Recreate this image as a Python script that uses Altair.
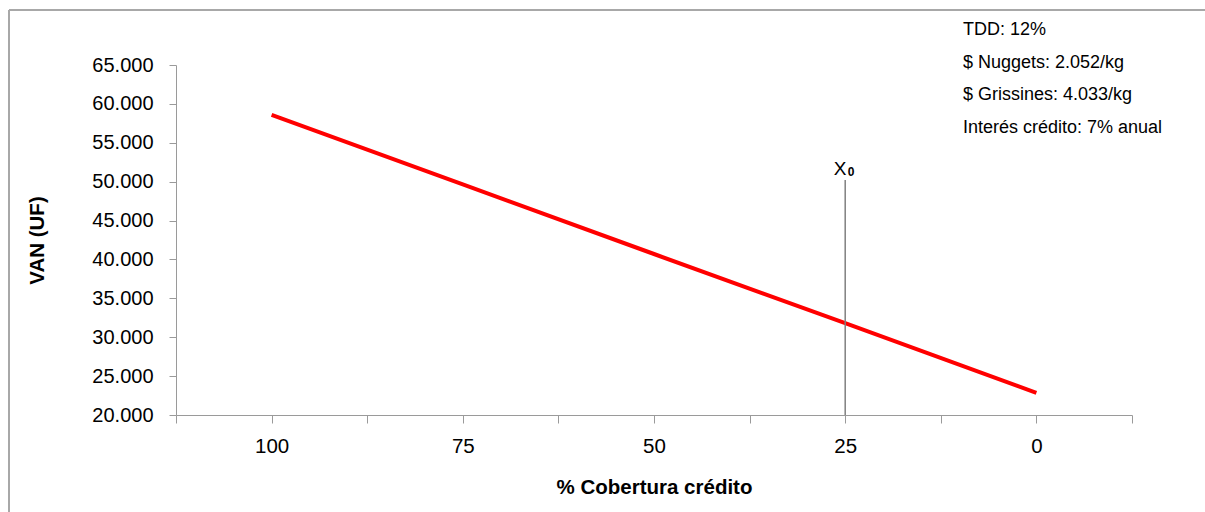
import altair as alt
import pandas as pd

# Data
cobertura = [100, 75, 50, 25, 0]
van = [58600, 49650, 40700, 31800, 22850]

x_ticks = [112.5, 100, 87.5, 75, 62.5, 50, 37.5, 25, 12.5, 0, -12.5]
y_ticks = [20000, 25000, 30000, 35000, 40000, 45000, 50000, 55000, 60000, 65000]

x0_pos = [25]
x0_top = [50200]
x0_main = ["X"]
x0_sub = ["0"]

notes = ["TDD: 12%", "$ Nuggets: 2.052/kg", "$ Grissines: 4.033/kg",
         "Interés crédito: 7% anual"]

FONT = "Liberation Sans"
AX = "#9a9a9a"

line_df = pd.DataFrame({"cob": cobertura, "van": van})
x0_df = pd.DataFrame({"cob": x0_pos, "top": x0_top, "van": [20000],
                      "main": x0_main, "sub": x0_sub})
notes_df = pd.DataFrame({"t": ["\n".join(notes)]})

xscale = alt.Scale(domain=[112.5, -12.5], nice=False, zero=False)
yscale = alt.Scale(domain=[20000, 65000], nice=False, zero=False)

xaxis = alt.Axis(values=x_ticks,
                 labelExpr="(datum.value % 25 == 0 && datum.value >= 0 && datum.value <= 100) ? datum.label : ''",
                 grid=False, domainColor=AX, tickColor=AX, tickSize=8,
                 labelPadding=13, labelFontSize=20.5, labelFont=FONT,
                 labelColor="#000", titleFont=FONT, titleFontSize=20.5,
                 titleFontWeight="bold", titleColor="#000",
                 titleX=478, titleY=78, titleBaseline="alphabetic",
                 titleAnchor="middle", labelFlush=False, labelOverlap=False)
yaxis = alt.Axis(values=y_ticks,
                 labelExpr="replace(format(datum.value, ',.0f'), ',', '.')",
                 grid=False, domainColor=AX, tickColor=AX, tickSize=7,
                 labelPadding=16, labelFontSize=20, labelFont=FONT,
                 labelColor="#000", titleFont=FONT, titleFontSize=20.5,
                 titleFontWeight="bold", titleColor="#000",
                 titleX=-133, titleY=175, titleBaseline="alphabetic",
                 titleAngle=270, titleAnchor="middle",
                 labelOverlap=False, labelFlush=False)

XT = "% Cobertura crédito"
YT = "VAN (UF)"

def xenc():
    return alt.X("cob:Q", scale=xscale, title=XT, axis=xaxis)

def yenc(field):
    return alt.Y(field, scale=yscale, title=YT, axis=yaxis)

frame = pd.DataFrame({"k": [0]})
border_top = alt.Chart(frame).mark_rule(stroke="#a8a8a8", strokeWidth=2,
                                        clip=False).encode(
    x=alt.value(-167), x2=alt.value(1029), y=alt.value(-55))
border_left = alt.Chart(frame).mark_rule(stroke="#a8a8a8", strokeWidth=2,
                                         clip=False).encode(
    x=alt.value(-167), y=alt.value(-55), y2=alt.value(447))

line = alt.Chart(line_df).mark_line(color="#ff0000", strokeWidth=4).encode(
    x=xenc(), y=yenc("van:Q"))

rule = alt.Chart(x0_df).mark_rule(color="#808080", strokeWidth=1.5).encode(
    x=xenc(), y=yenc("van:Q"), y2="top:Q")

x0_text = alt.Chart(x0_df).mark_text(font=FONT, fontSize=19, fontWeight="normal",
                                     baseline="alphabetic", align="center",
                                     dx=-5, dy=-5, color="#000").encode(
    x=xenc(), y=yenc("top:Q"), text="main:N")
x0_subtext = alt.Chart(x0_df).mark_text(font=FONT, fontSize=12, fontWeight="bold",
                                        baseline="alphabetic", align="center",
                                        dx=6, dy=-4, color="#000").encode(
    x=xenc(), y=yenc("top:Q"), text="sub:N")

notes_text = alt.Chart(notes_df).mark_text(font=FONT, fontSize=18, align="left",
                                           baseline="middle", lineHeight=32.5,
                                           color="#000", clip=False,
                                           lineBreak="\n").encode(
    x=alt.value(787), y=alt.value(-35), text="t:N")

chart = alt.layer(border_top, border_left, line, rule, x0_text, x0_subtext,
                  notes_text).properties(
    width=956, height=350,
    padding={"left": 176, "top": 65, "right": 73, "bottom": 97},
    autosize=alt.AutoSizeParams(type="none"),
    background="#ffffff",
).configure_view(stroke=None)

chart.save("out.html", embed_options={"renderer": "svg", "actions": False})
